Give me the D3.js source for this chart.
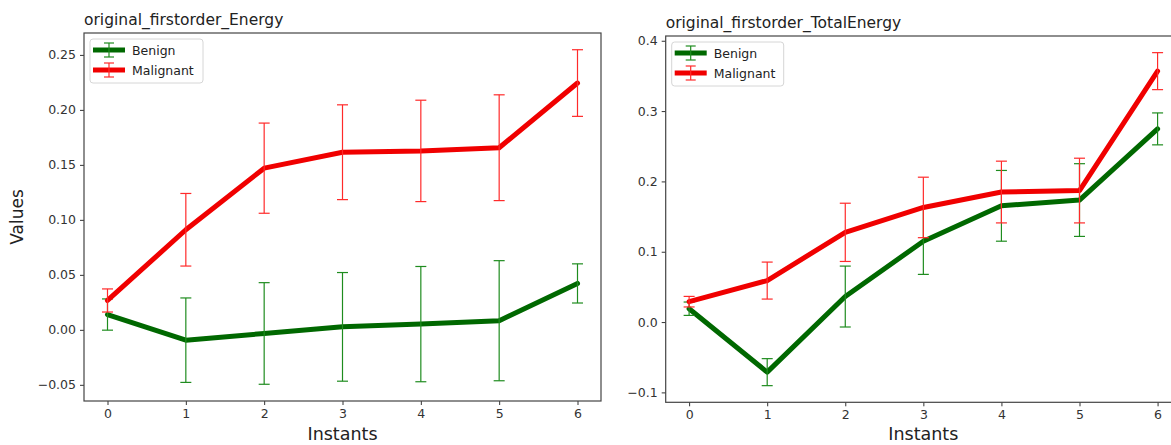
<!DOCTYPE html>
<html>
<head>
<meta charset="utf-8">
<script src="https://cdn.jsdelivr.net/npm/d3@7"></script>
<style>
  body { margin: 0; background: #fff; }
  svg { display: block; font-family: "DejaVu Sans", sans-serif; }
</style>
</head>
<body>
<svg id="chart" width="1171" height="445"></svg>
<script>
var instants = [0, 1, 2, 3, 4, 5, 6];
var seriesNames = ["Benign", "Malignant"];

// original_firstorder_Energy
var energyBenignMean = [0.0139, -0.0094, -0.0033, 0.0027, 0.0052, 0.0083, 0.0422];
var energyBenignErr = [0.0142, 0.0384, 0.0462, 0.0494, 0.0524, 0.0546, 0.0178];
var energyMalignantMean = [0.0267, 0.0910, 0.1470, 0.1615, 0.1627, 0.1656, 0.2244];
var energyMalignantErr = [0.0105, 0.0330, 0.0410, 0.0431, 0.0461, 0.0481, 0.0303];
var energyTicks = [-0.05, 0, 0.05, 0.10, 0.15, 0.20, 0.25];

// original_firstorder_TotalEnergy
var totalBenignMean = [0.0190, -0.0712, 0.0363, 0.1150, 0.1653, 0.1735, 0.2747];
var totalBenignErr = [0.0095, 0.0192, 0.0433, 0.0472, 0.0503, 0.0517, 0.0227];
var totalMalignantMean = [0.0290, 0.0590, 0.1276, 0.1630, 0.1849, 0.1870, 0.3568];
var totalMalignantErr = [0.0075, 0.0263, 0.0414, 0.0430, 0.0439, 0.0460, 0.0263];
var totalTicks = [-0.1, 0, 0.1, 0.2, 0.3, 0.4];

var lineColors = ["#006800", "#f00000"];
var barColors = ["#1f8c1f", "#ff2a2a"];

var svg = d3.select("#chart");

function fmt(d, digits) {
  return (d < 0 ? "\u2212" : "") + Math.abs(d).toFixed(digits);
}

function drawPanel(opts) {
  var g = svg.append("g");
  var x = d3.scaleLinear().domain([-0.3, 6.3]).range([opts.left, opts.right]);

  var lo = d3.min(opts.series, function(s) { return d3.min(s.mean, function(m, i) { return m - s.err[i]; }); });
  var hi = d3.max(opts.series, function(s) { return d3.max(s.mean, function(m, i) { return m + s.err[i]; }); });
  var pad = (hi - lo) * 0.05;
  var y = d3.scaleLinear().domain([lo - pad, hi + pad]).range([opts.bottom, opts.top]);

  // axes
  var xAxis = d3.axisBottom(x).tickValues(instants).tickFormat(d3.format("d")).tickSize(4).tickPadding(4);
  var yAxis = d3.axisLeft(y).tickValues(opts.ticks).tickFormat(function(d) { return fmt(d, opts.digits); }).tickSize(4).tickPadding(4);

  var xg = g.append("g").attr("transform", "translate(0," + opts.bottom + ")").call(xAxis);
  var yg = g.append("g").attr("transform", "translate(" + opts.left + ",0)").call(yAxis);
  [xg, yg].forEach(function(a) {
    a.select(".domain").remove();
    a.selectAll("line").attr("stroke", "#333").attr("stroke-width", 1);
    a.selectAll("text").attr("fill", "#333").style("font-size", "12.5px").style("font-family", "DejaVu Sans");
  });

  g.append("rect")
    .attr("x", opts.left).attr("y", opts.top)
    .attr("width", opts.right - opts.left).attr("height", opts.bottom - opts.top)
    .attr("fill", "none").attr("stroke", "#444").attr("stroke-width", 1.2);

  var line = d3.line()
    .x(function(d, i) { return x(instants[i]); })
    .y(function(d) { return y(d); });

  opts.series.forEach(function(s, k) {
    g.append("path")
      .datum(s.mean)
      .attr("d", line)
      .attr("fill", "none")
      .attr("stroke", lineColors[k])
      .attr("stroke-width", 5)
      .attr("stroke-linejoin", "round")
      .attr("stroke-linecap", "round");

    var bars = g.append("g").attr("stroke", barColors[k]).attr("stroke-width", 1.2);
    s.mean.forEach(function(m, i) {
      var cx = x(instants[i]);
      bars.append("line").attr("x1", cx).attr("x2", cx).attr("y1", y(m - s.err[i])).attr("y2", y(m + s.err[i]));
      [m - s.err[i], m + s.err[i]].forEach(function(v) {
        bars.append("line").attr("x1", cx - 5.5).attr("x2", cx + 5.5).attr("y1", y(v)).attr("y2", y(v));
      });
    });
  });

  // title
  g.append("text")
    .attr("x", opts.left).attr("y", opts.top - 8)
    .attr("fill", "#222").style("font-size", "15.5px")
    .text(opts.title);

  // x label
  g.append("text")
    .attr("x", (opts.left + opts.right) / 2).attr("y", 440)
    .attr("text-anchor", "middle").attr("fill", "#222").style("font-size", "17.5px")
    .text("Instants");

  if (opts.ylabel) {
    g.append("text")
      .attr("transform", "translate(23," + ((opts.top + opts.bottom) / 2) + ") rotate(-90)")
      .attr("text-anchor", "middle").attr("fill", "#222").style("font-size", "17px")
      .text(opts.ylabel);
  }

  // legend
  var lx = opts.left + 6, ly = opts.top + 6;
  var leg = g.append("g").attr("transform", "translate(" + lx + "," + ly + ")");
  leg.append("rect")
    .attr("width", opts.legendW).attr("height", 44).attr("rx", 3)
    .attr("fill", "#fff").attr("fill-opacity", 0.8)
    .attr("stroke", "#d6d6d6").attr("stroke-width", 1);
  seriesNames.forEach(function(name, k) {
    var yy = 11 + k * 20;
    leg.append("line").attr("x1", 3).attr("x2", 35).attr("y1", yy).attr("y2", yy)
      .attr("stroke", lineColors[k]).attr("stroke-width", 5);
    var eb = leg.append("g").attr("stroke", barColors[k]).attr("stroke-width", 1.2);
    eb.append("line").attr("x1", 19).attr("x2", 19).attr("y1", yy - 7).attr("y2", yy + 7);
    eb.append("line").attr("x1", 14).attr("x2", 24).attr("y1", yy - 7).attr("y2", yy - 7);
    eb.append("line").attr("x1", 14).attr("x2", 24).attr("y1", yy + 7).attr("y2", yy + 7);
    leg.append("text").attr("x", 42).attr("y", yy + 4.5)
      .attr("fill", "#222").style("font-size", "12.5px").text(name);
  });
}

drawPanel({
  title: "original_firstorder_Energy",
  ylabel: "Values",
  left: 84, right: 601, top: 33, bottom: 401,
  ticks: energyTicks, digits: 2, legendW: 113,
  series: [
    { mean: energyBenignMean, err: energyBenignErr },
    { mean: energyMalignantMean, err: energyMalignantErr }
  ]
});

drawPanel({
  title: "original_firstorder_TotalEnergy",
  left: 665.7, right: 1181, top: 36, bottom: 402.3,
  ticks: totalTicks, digits: 1, legendW: 112,
  series: [
    { mean: totalBenignMean, err: totalBenignErr },
    { mean: totalMalignantMean, err: totalMalignantErr }
  ]
});
</script>
</body>
</html>
